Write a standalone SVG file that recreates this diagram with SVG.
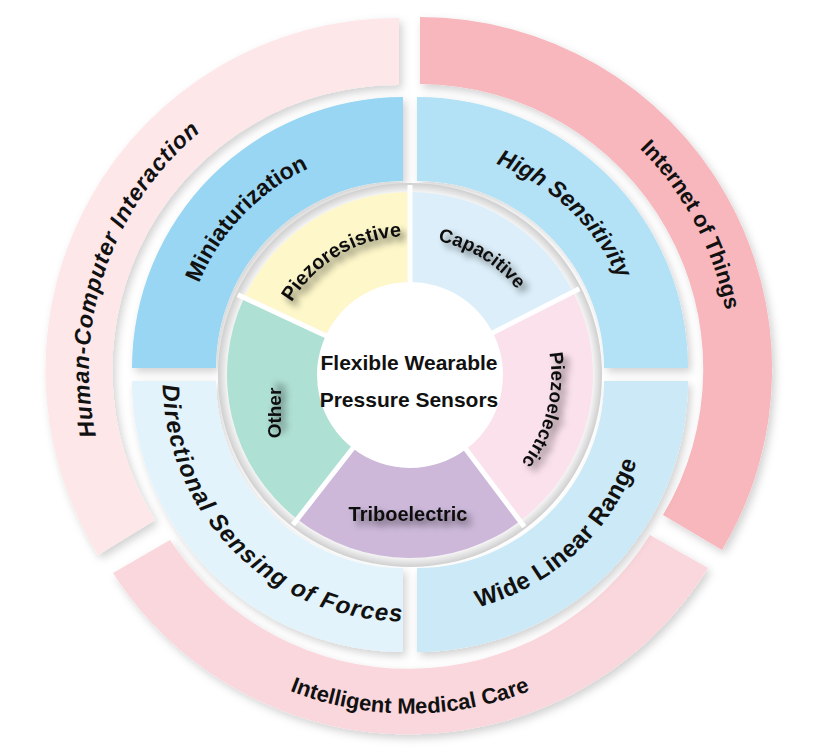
<svg xmlns="http://www.w3.org/2000/svg" xmlns:xlink="http://www.w3.org/1999/xlink" width="819" height="751" viewBox="0 0 819 751">
<style>
  text { font-family: "Liberation Sans", Arial, sans-serif; fill: #111; }
  .b { font-weight: bold; }
  .i { font-style: italic; }
  .outer { font-size: 22px; }
  .mid { font-size: 23px; }
  .inner { font-size: 19px; }
  .center { font-size: 21px; font-weight: bold; }
  .seg { filter: url(#ds); }
  .cut { stroke: #ffffff; stroke-width: 5; fill: none; }
</style>
<defs>
  <filter id="ds" x="-10%" y="-10%" width="125%" height="125%">
    <feDropShadow dx="3" dy="4" stdDeviation="4" flood-color="#000" flood-opacity="0.18"/>
  </filter>
  <filter id="ts" x="-30%" y="-60%" width="160%" height="220%">
    <feGaussianBlur in="SourceAlpha" stdDeviation="3.5"/>
    <feOffset dx="5" dy="5" result="o"/>
    <feComponentTransfer><feFuncA type="linear" slope="0.55"/></feComponentTransfer>
    <feMerge><feMergeNode/><feMergeNode in="SourceGraphic"/></feMerge>
  </filter>
  <radialGradient id="band" cx="410" cy="375" r="192" gradientUnits="userSpaceOnUse">
    <stop offset="0.94" stop-color="#ffffff"/>
    <stop offset="1" stop-color="#cfcfcf"/>
  </radialGradient>
  <path id="tpHCI" d="M 272.9 653.2 A 310 310 0 0 1 474.0 69.2"/>
  <path id="tpIoT" d="M 298.5 82.7 A 311 311 0 0 1 589.4 629.8"/>
  <path id="tpMed" d="M 83.2 413.6 A 328 328 0 0 0 736.8 413.6"/>
  <path id="tpMin" d="M 237.2 514.1 A 221 221 0 0 1 540.9 195.3"/>
  <path id="tpHS" d="M 270.0 205.0 A 221 221 0 0 1 590.4 507.0"/>
  <path id="tpDir" d="M 217.8 228.3 A 240 240 0 0 0 558.9 563.5"/>
  <path id="tpWide" d="M 258.9 553.5 A 234 234 0 0 0 602.7 238.5"/>
  <path id="tpPr" d="M 285.1 435.9 A 139 139 0 0 1 522.5 293.3"/>
  <path id="tpCap" d="M 300.0 293.3 A 137 137 0 0 1 532.5 436.3"/>
  <path id="tpPe" d="M 457.1 242.1 A 141 141 0 0 1 386.7 514.1"/>
</defs>
<rect width="819" height="751" fill="#ffffff"/>

<!-- Outer ring: application fields -->
<g id="hci">
  <path class="seg" fill="#fde7e9" d="M 399 18 A 352 352 0 0 0 98 555 L 155 520 A 285 285 0 0 1 399 85 Z"/>
  <text class="b i" font-size="23" letter-spacing="0.8"><textPath href="#tpHCI" startOffset="50%" text-anchor="middle">Human-Computer Interaction</textPath></text>
</g>
<g id="iot">
  <path class="seg" fill="#f7b7bd" d="M 420 17 A 352 352 0 0 1 722 550 L 663 515 A 285 285 0 0 0 420 84 Z"/>
  <text class="outer b"><textPath href="#tpIoT" startOffset="50%" text-anchor="middle">Internet of Things</textPath></text>
</g>
<g id="medical">
  <path class="seg" fill="#fad7dd" d="M 113 573 A 352 352 0 0 0 708 568 L 650 535 A 285 285 0 0 1 170 540 Z"/>
  <text class="outer b"><textPath href="#tpMed" startOffset="50%" text-anchor="middle">Intelligent Medical Care</textPath></text>
</g>

<!-- Middle ring: performance -->
<g id="miniaturization">
  <path class="seg" fill="#98d6f3" d="M 403 97 A 271 271 0 0 0 132 368 L 216 368 A 187 187 0 0 1 403 181 Z"/>
  <text class="mid b"><textPath href="#tpMin" startOffset="50%" text-anchor="middle">Miniaturization</textPath></text>
</g>
<g id="high-sensitivity">
  <path class="seg" fill="#b3e1f6" d="M 417 97 A 271 271 0 0 1 688 368 L 604 368 A 187 187 0 0 0 417 181 Z"/>
  <text class="mid b i"><textPath href="#tpHS" startOffset="50%" text-anchor="middle">High Sensitivity</textPath></text>
</g>
<g id="directional">
  <path class="seg" fill="#e3f3fb" d="M 132 381 A 271 271 0 0 0 403 652 L 403 568 A 187 187 0 0 1 216 381 Z"/>
  <text class="b i" font-size="24" letter-spacing="1.2"><textPath href="#tpDir" startOffset="50%" text-anchor="middle">Directional Sensing of Forces</textPath></text>
</g>
<g id="wide-linear-range">
  <path class="seg" fill="#cbe9f6" d="M 417 652 A 271 271 0 0 0 688 381 L 604 381 A 187 187 0 0 1 417 568 Z"/>
  <text class="b" font-size="24" letter-spacing="0.5"><textPath href="#tpWide" startOffset="50%" text-anchor="middle">Wide Linear Range</textPath></text>
</g>

<!-- band between middle and inner ring -->
<circle cx="410" cy="375" r="192" fill="url(#band)"/>

<!-- Inner ring: mechanisms -->
<g id="piezoresistive">
  <path fill="#fdf7c9" d="M 244.1 297.7 A 183 183 0 0 1 410 192 L 410 282 A 93 93 0 0 0 325.7 335.7 Z"/>
  <text class="b" font-size="20" filter="url(#ts)"><textPath href="#tpPr" startOffset="50%" text-anchor="middle">Piezoresistive</textPath></text>
</g>
<g id="capacitive">
  <path fill="#dbeef9" d="M 410 192 A 183 183 0 0 1 573.1 291.9 L 492.9 332.8 A 93 93 0 0 0 410 282 Z"/>
  <text class="inner b" filter="url(#ts)"><textPath href="#tpCap" startOffset="50%" text-anchor="middle">Capacitive</textPath></text>
</g>
<g id="piezoelectric">
  <path fill="#fbe1eb" d="M 573.1 291.9 A 183 183 0 0 1 520.1 521.1 L 466.0 449.3 A 93 93 0 0 0 492.9 332.8 Z"/>
  <text class="inner b" filter="url(#ts)"><textPath href="#tpPe" startOffset="50%" text-anchor="middle">Piezoelectric</textPath></text>
</g>
<g id="triboelectric">
  <path fill="#cdb8da" d="M 520.1 521.1 A 183 183 0 0 1 297.3 519.2 L 352.7 448.3 A 93 93 0 0 0 466.0 449.3 Z"/>
  <text class="b" filter="url(#ts)" x="408" y="521" font-size="20" text-anchor="middle">Triboelectric</text>
</g>
<g id="other">
  <path fill="#afe0d4" d="M 297.3 519.2 A 183 183 0 0 1 244.1 297.7 L 325.7 335.7 A 93 93 0 0 0 352.7 448.3 Z"/>
  <text class="b" filter="url(#ts)" font-size="19" text-anchor="middle" transform="translate(281 413) rotate(-90)">Other</text>
</g>

<!-- separators -->
<g id="connectors">
  <path class="cut" d="M 410 375 L 410 185 M 410 375 L 579.3 288.7 M 410 375 L 524.3 526.7 M 410 375 L 293.0 524.7 M 410 375 L 237.8 294.7"/>
</g>

<!-- Center -->
<g id="center">
  <circle cx="410" cy="375" r="91" fill="#ffffff"/>
  <text class="center" x="409" y="370" text-anchor="middle">Flexible Wearable</text>
  <text class="center" x="409" y="407" text-anchor="middle">Pressure Sensors</text>
</g>
</svg>
